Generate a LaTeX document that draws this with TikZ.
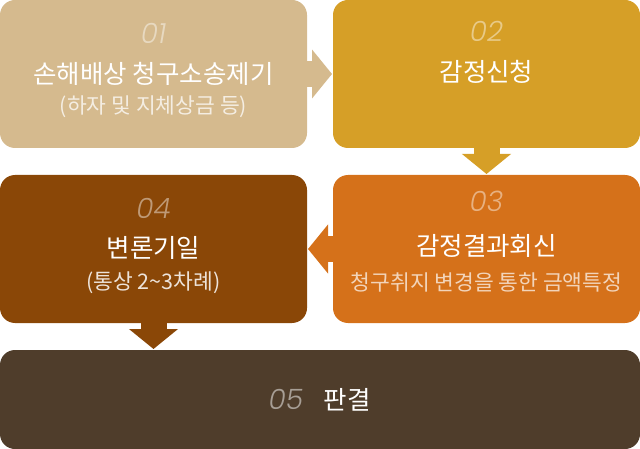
\documentclass[tikz,border=0pt]{standalone}
\usepackage{fontspec}
\setmainfont{Noto Sans CJK KR}
\newfontfamily\numfont{Poppins Light Italic}
\usetikzlibrary{positioning,arrows.meta}

\definecolor{stepA}{HTML}{D5BA8E}
\definecolor{stepB}{HTML}{D69F27}
\definecolor{stepC}{HTML}{D5711A}
\definecolor{stepD}{HTML}{8A4707}
\definecolor{stepE}{HTML}{4F3D2B}

\begin{document}
\begin{tikzpicture}[x=1pt, y=1pt,
    box/.style={rounded corners=15pt, inner sep=0pt, outer sep=0pt, minimum width=307pt, minimum height=148pt},
    num/.style={font=\numfont\fontsize{28}{28}\selectfont, text=white, text opacity=0.45, inner sep=0pt},
    title/.style={font=\fontsize{25.5}{25.5}\selectfont, text=white, inner sep=0pt},
    sub/.style={font=\fontsize{21.5}{21.5}\selectfont, text=white, inner sep=0pt},
    flow/.style={line width=26pt, -{Triangle[width=48pt, length=20pt]}, shorten >=1pt}]
    \useasboundingbox (0,0) rectangle (640,-449);

    % Boxes
    \node (s1) [box, fill=stepA, anchor=north west] at (0,0) {};
    \node (s2) [box, fill=stepB, right=26pt of s1] {};
    \node (s3) [box, fill=stepC, below=27pt of s2] {};
    \node (s4) [box, fill=stepD, left=26pt of s3] {};
    \node (s5) [box, fill=stepE, minimum width=640pt, minimum height=99pt, below=27pt of s4.south west, anchor=north west] {};

    % Texts in the boxes
    \node (n1) [num] at ([yshift=-33pt]s1.north) {01};
    \node (t1) [title] at ([yshift=-74pt]s1.north) {손해배상 청구소송제기};
    \node (u1) [sub, text opacity=0.75] at ([yshift=-107pt]s1.north) {(하자 및 지체상금 등)};
    \node (n2) [num] at ([yshift=-31pt]s2.north) {02};
    \node (t2) [title] at ([yshift=-72pt]s2.north) {감정신청};
    \node (n3) [num] at ([yshift=-26pt]s3.north) {03};
    \node (t3) [title] at ([yshift=-71pt]s3.north) {감정결과회신};
    \node (u3) [sub, text opacity=0.7] at ([yshift=-107pt]s3.north) {청구취지 변경을 통한 금액특정};
    \node (n4) [num] at ([yshift=-33pt]s4.north) {04};
    \node (t4) [title] at ([yshift=-73pt]s4.north) {변론기일};
    \node (u4) [sub, text opacity=0.85] at ([yshift=-108pt]s4.north) {(통상 2\textasciitilde3차례)};
    \node (n5) [num, text opacity=0.5] at ([xshift=-34pt]s5.center) {05};
    \node (t5) [title] at ([xshift=27pt]s5.center) {판결};

    % Flow arrows
    \draw[flow, stepA] (s1) -- (s2);
    \draw[flow, stepB] (s2) -- (s3);
    \draw[flow, stepC] (s3) -- (s4);
    \draw[flow, stepD] (s4.south) -- (s4.south |- s5.north);
\end{tikzpicture}
\end{document}
